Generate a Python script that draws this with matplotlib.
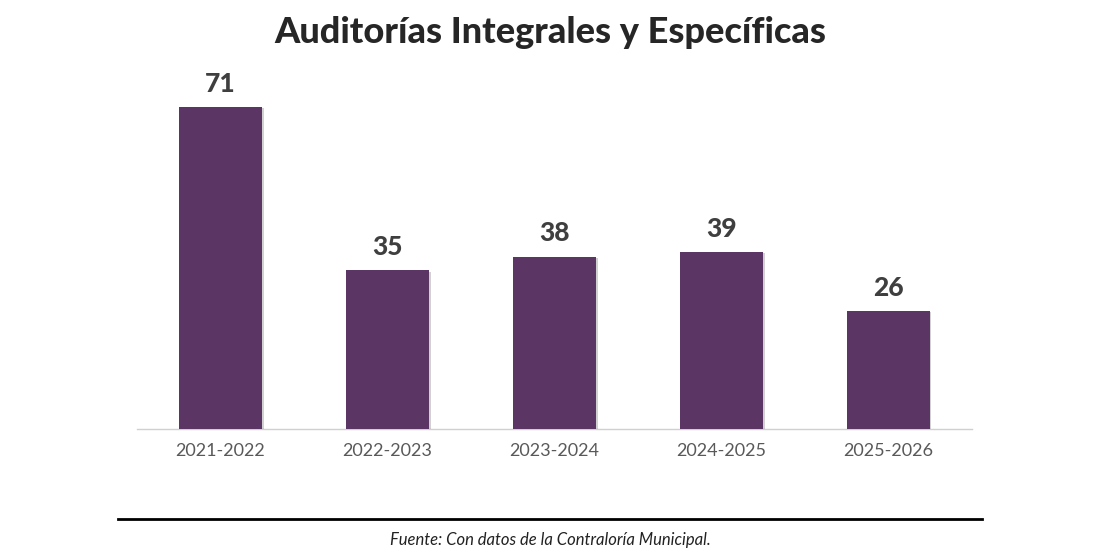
import matplotlib.pyplot as plt
import matplotlib.patheffects as pe
from matplotlib.lines import Line2D

periodos = ['2021-2022', '2022-2023', '2023-2024', '2024-2025', '2025-2026']
auditorias = [71, 35, 38, 39, 26]

titulo = 'Auditorías Integrales y Específicas'
fuente = 'Fuente: Con datos de la Contraloría Municipal.'

color_barra = '#5B3563'

fig = plt.figure(figsize=(11, 5.59), dpi=100)
ax = fig.add_axes([0.1245, 0.2326, 0.759, 0.6494])

x = range(len(periodos))
barras = ax.bar(x, auditorias, width=0.5, color=color_barra, zorder=3,
                path_effects=[pe.SimplePatchShadow(offset=(1, -1), alpha=0.18, shadow_rgbFace='#000000'),
                              pe.Normal()])

for xi, v in zip(x, auditorias):
    ax.annotate(str(v), (xi, v), xytext=(0, 8), textcoords='offset points',
                ha='center', va='bottom', fontsize=19, fontweight='black',
                color='#3F3F3F', family='Lato')

ax.set_xlim(-0.5, len(periodos) - 0.5)
ax.set_ylim(0, 80)
ax.set_xticks(list(x))
ax.set_xticklabels(periodos, fontsize=13, color='#595959', family='Lato')
ax.tick_params(axis='x', length=0, pad=10)
ax.set_yticks([])
for s in ['top', 'right', 'left']:
    ax.spines[s].set_visible(False)
ax.spines['bottom'].set_color('#D0D0D0')
ax.spines['bottom'].set_linewidth(1)

fig.text(0.5, 0.942, titulo, ha='center', va='center', fontsize=26,
         fontweight='black', color='#262626', family='Lato')

fig.add_artist(Line2D([118 / 1100, 982 / 1100], [1 - 519 / 559, 1 - 519 / 559],
                      color='black', linewidth=2))
fig.text(0.5, 1 - 540 / 559, fuente, ha='center', va='center', fontsize=12,
         style='italic', color='#222222', family='Lato')

fig.savefig('out.png', dpi=100)
